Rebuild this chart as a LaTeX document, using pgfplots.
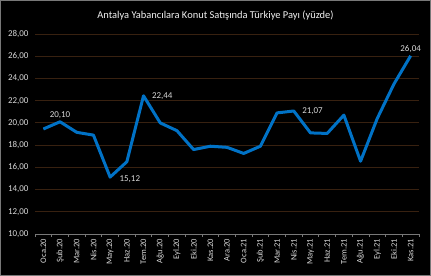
\documentclass[border=0pt]{standalone}
\usepackage{pgfplots}
\pgfplotsset{compat=1.18}
\usepackage{fontspec}
\setmainfont{Carlito}
\definecolor{gridc}{RGB}{56,33,16}
\definecolor{linec}{RGB}{0,114,198}
\definecolor{txt}{RGB}{217,217,217}
\definecolor{ttl}{RGB}{242,242,242}
\definecolor{frame}{RGB}{120,120,120}
\begin{document}
\begin{tikzpicture}[x=1bp,y=1bp]
\fill[black] (0,0) rectangle (431,276);
\draw[frame, line width=1bp] (0.5,0.5) rectangle (430.5,275.5);
\node[text=ttl, font=\fontsize{10.5}{12}\selectfont] at (215.5,260) {Antalya Yabancılara Konut Satışında Türkiye Payı (yüzde)};
\begin{axis}[
  at={(35bp,42bp)}, anchor=south west,
  width=384bp, height=200bp, scale only axis,
  xmin=-0.5, xmax=22.5, ymin=10, ymax=28,
  ytick={10,12,...,28},
  xtick={0,...,22},
  xticklabels={Oca.20,Şub.20,Mar.20,Nis.20,May.20,Haz.20,Tem.20,Ağu.20,Eyl.20,Eki.20,Kas.20,Ara.20,Oca.21,Şub.21,Mar.21,Nis.21,May.21,Haz.21,Tem.21,Ağu.21,Eyl.21,Eki.21,Kas.21},
  minor xtick={-0.5,0.5,...,22.5},
  axis x line*=bottom, axis y line*=left,
  x axis line style={draw=frame, line width=0.8bp},
  y axis line style={draw=none},
  tick align=outside,
  major tick length=0pt, minor tick length=3bp,
  minor x tick style={draw=frame, line width=0.8bp},
  ytick style={draw=none},
  ymajorgrids, grid style={draw=gridc, line width=0.8bp},
  x tick label style={rotate=90, anchor=east, font=\fontsize{8.5}{9}\selectfont, text=txt, inner sep=1bp, xshift=-4bp},
  y tick label style={font=\fontsize{9}{10}\selectfont, text=txt, xshift=-3bp},
  yticklabel style={/pgf/number format/use comma, /pgf/number format/fixed, /pgf/number format/fixed zerofill, /pgf/number format/precision=2, /pgf/number format/assume math mode=true},
  clip=false,
]
\addplot[linec, line width=3bp, line join=round] coordinates {
(0,19.45) (1,20.10) (2,19.15) (3,18.90) (4,15.12) (5,16.50) (6,22.44) (7,20.00) (8,19.30) (9,17.60) (10,17.90) (11,17.80) (12,17.25) (13,17.90) (14,20.90) (15,21.07) (16,19.10) (17,19.05) (18,20.70) (19,16.55) (20,20.40) (21,23.50) (22,26.04)};
\pgfplotsset{lbl/.style={draw=none, mark=none, nodes near coords, nodes near coords style={font=\fontsize{9}{10}\selectfont, text=txt, /pgf/number format/use comma, /pgf/number format/fixed, /pgf/number format/fixed zerofill, /pgf/number format/precision=2, /pgf/number format/assume math mode=true}}}
\addplot[lbl, nodes near coords style={anchor=south, yshift=0bp}] coordinates {(1,20.10) (22,26.04)};
\addplot[lbl, nodes near coords style={anchor=west, xshift=5bp}] coordinates {(6,22.44) (15,21.07)};
\addplot[lbl, nodes near coords style={anchor=west, xshift=6bp, yshift=-2bp}] coordinates {(4,15.12)};
\end{axis}
\end{tikzpicture}
\end{document}
